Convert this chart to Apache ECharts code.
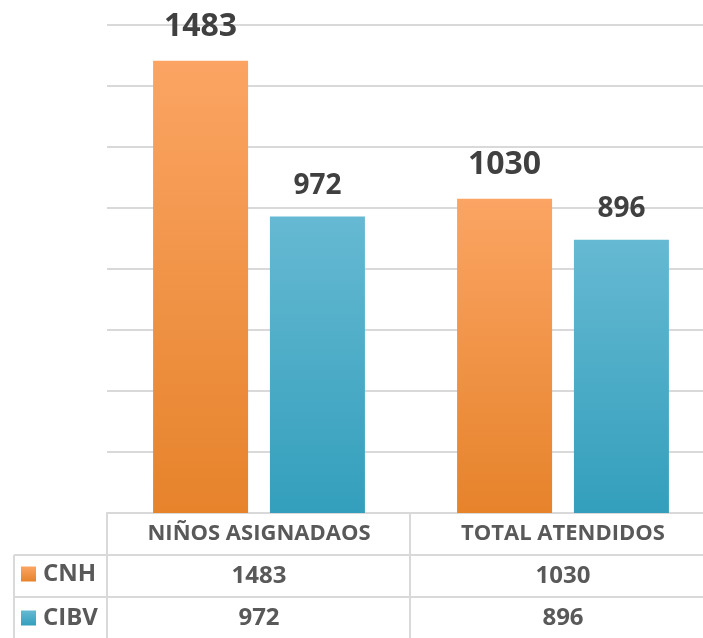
<!DOCTYPE html>
<html>
<head>
<meta charset="utf-8">
<script src="https://cdn.jsdelivr.net/npm/echarts@6/dist/echarts.min.js"></script>
<style>
  html, body { margin: 0; padding: 0; background: #fff; }
  #chart { width: 703px; height: 638px; }
</style>
</head>
<body>
<div id="chart"></div>
<script>
// 数据
var categories = ['NIÑOS ASIGNADAOS', 'TOTAL ATENDIDOS'];
var seriesNames = ['CNH', 'CIBV'];
var cnhValues = [1483, 1030];
var cibvValues = [972, 896];

(function () {
  var myEchart = echarts.init(document.getElementById('chart'));
  var font = '"Open Sans", sans-serif';
  var gridColor = '#d9d9d9';

  function grad(top, bottom) {
    return new echarts.graphic.LinearGradient(0, 0, 0, 1, [
      { offset: 0, color: top },
      { offset: 1, color: bottom }
    ]);
  }

  // 图例（表格左列）
  function legendRow(name, top) {
    return {
      left: 21,
      top: top,
      padding: 0,
      itemWidth: 15,
      itemHeight: 15,
      icon: 'rect',
      data: [name],
      textStyle: { fontFamily: font, fontWeight: 'bold', fontSize: 24, color: '#595959', padding: [0, 0, 0, 2] }
    };
  }

  var option = {
    animation: false,
    grid: { left: 107, width: 608, top: 25, bottom: 125, outerBoundsMode: 'none' },
    legend: [legendRow(seriesNames[0], 562), legendRow(seriesNames[1], 606)],
    xAxis: {
      type: 'category',
      data: categories,
      axisLine: { lineStyle: { color: gridColor, width: 2 } },
      axisTick: { show: false },
      axisLabel: {
        margin: 0,
        interval: 0,
        formatter: function (val, idx) {
          return '{h|' + val + '}\n{v|' + cnhValues[idx] + '}\n{v|' + cibvValues[idx] + '}';
        },
        rich: {
          h: { fontFamily: font, fontWeight: 'bold', fontSize: 22, color: '#595959', lineHeight: 42 },
          v: { fontFamily: font, fontWeight: 'bold', fontSize: 24, color: '#595959', lineHeight: 42 }
        }
      }
    },
    yAxis: {
      type: 'value',
      min: 0,
      max: 1600,
      interval: 200,
      axisLabel: { show: false },
      axisLine: { show: false },
      axisTick: { show: false },
      splitLine: { lineStyle: { color: gridColor, width: 2 } }
    },
    series: [
      {
        name: seriesNames[0],
        type: 'bar',
        data: cnhValues,
        barWidth: 95,
        barGap: '23%',
        itemStyle: { color: grad('#fba463', '#e6832b') },
        label: {
          show: true, position: 'top', distance: 18,
          fontFamily: font, fontWeight: 'bold', fontSize: 32, color: '#404040'
        }
      },
      {
        name: seriesNames[1],
        type: 'bar',
        data: cibvValues,
        barWidth: 95,
        itemStyle: { color: grad('#66b9d2', '#339fbc') },
        label: {
          show: true, position: 'top', distance: 17,
          fontFamily: font, fontWeight: 'bold', fontSize: 28, color: '#404040'
        }
      }
    ],
    // 表格线
    graphic: [
      { type: 'line', shape: { x1: 107, y1: 513, x2: 107, y2: 638 }, style: { stroke: gridColor, lineWidth: 2 } },
      { type: 'line', shape: { x1: 410, y1: 513, x2: 410, y2: 638 }, style: { stroke: gridColor, lineWidth: 2 } },
      { type: 'line', shape: { x1: 14, y1: 555, x2: 703, y2: 555 }, style: { stroke: gridColor, lineWidth: 2 } },
      { type: 'line', shape: { x1: 14, y1: 597, x2: 703, y2: 597 }, style: { stroke: gridColor, lineWidth: 2 } },
      { type: 'line', shape: { x1: 14, y1: 555, x2: 14, y2: 638 }, style: { stroke: gridColor, lineWidth: 2 } }
    ]
  };
  myEchart.setOption(option);
  window.addEventListener('resize', function () {
    myEchart.resize();
  });
})();
</script>
</body>
</html>
